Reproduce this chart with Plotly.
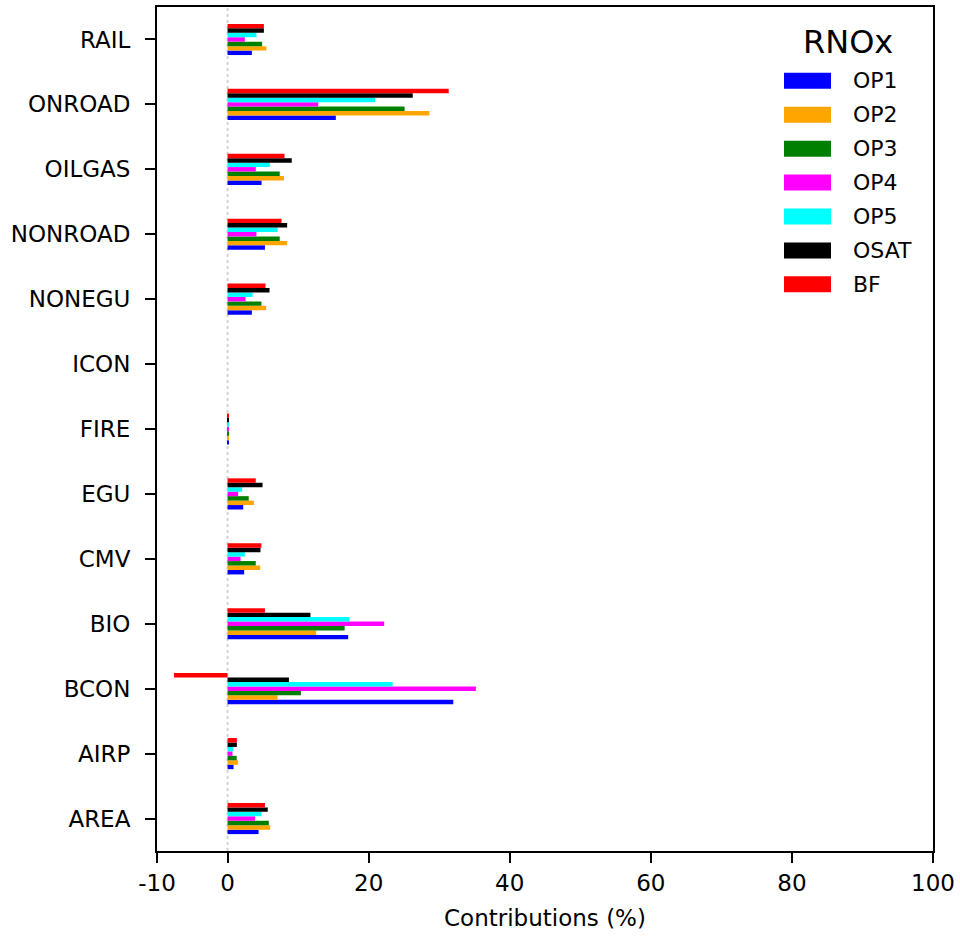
import plotly.graph_objects as go

categories = ["AREA", "AIRP", "BCON", "BIO", "CMV", "EGU", "FIRE", "ICON",
              "NONEGU", "NONROAD", "OILGAS", "ONROAD", "RAIL"]

series_names = ["OP1", "OP2", "OP3", "OP4", "OP5", "OSAT", "BF"]
series_colors = ["#0000ff", "#ffa500", "#008000", "#ff00ff", "#00ffff", "#000000", "#ff0000"]

op1 = [4.4, 0.85, 32.0, 17.1, 2.36, 2.22, 0.1, 0, 3.45, 5.3, 4.82, 15.35, 3.45]
op2 = [6.04, 1.5, 7.08, 12.56, 4.63, 3.73, 0.1, 0, 5.48, 8.45, 7.98, 28.6, 5.5]
op3 = [5.85, 1.3, 10.4, 16.6, 4.0, 3.0, 0.1, 0, 4.8, 7.4, 7.4, 25.1, 4.9]
op4 = [3.9, 0.7, 35.2, 22.2, 1.84, 1.5, 0.1, 0, 2.55, 4.1, 4.0, 12.85, 2.45]
op5 = [4.8, 0.8, 23.4, 17.28, 2.45, 2.08, 0.1, 0, 3.54, 7.08, 6.0, 20.9, 4.1]
osat = [5.7, 1.32, 8.7, 11.75, 4.67, 4.96, 0.1, 0, 5.95, 8.45, 9.1, 26.25, 5.15]
bf = [5.3, 1.32, -7.6, 5.3, 4.8, 4.0, 0.1, 0, 5.38, 7.65, 8.07, 31.35, 5.15]

series_values = [op1, op2, op3, op4, op5, osat, bf]

x_tickvals = [-10, 0, 20, 40, 60, 80, 100]
legend_title = "RNOx"
x_title = "Contributions (%)"

FONT = "DejaVu Sans"

fig = go.Figure()
for name, color, vals in zip(series_names, series_colors, series_values):
    fig.add_trace(go.Bar(
        y=categories, x=vals, name=name, orientation="h",
        marker=dict(color=color, line=dict(width=0)),
        showlegend=False,
    ))

# zero reference line (dotted)
fig.add_shape(type="line", xref="x", yref="paper", x0=0, x1=0, y0=0, y1=1,
              line=dict(color="#d3d3d3", width=2, dash="dot"), layer="below")

# manual legend matching the reference's wide patches
H = 846.0
W = 776.0
def py(pix):
    return (851 - pix) / H
def px(pix):
    return (pix - 157) / W

fig.add_annotation(xref="paper", yref="paper", x=px(848), y=py(40), text=legend_title,
                   showarrow=False, xanchor="center", yanchor="middle",
                   font=dict(family=FONT, size=32, color="black"))
for i, (name, color) in enumerate(zip(series_names, series_colors)):
    yc = 79 + 34 * i
    fig.add_shape(type="rect", xref="paper", yref="paper",
                  x0=px(784), x1=px(831), y0=py(yc + 8), y1=py(yc - 8),
                  fillcolor=color, line=dict(width=0))
    fig.add_annotation(xref="paper", yref="paper", x=px(851), y=py(yc), text=name,
                       showarrow=False, xanchor="left", yanchor="middle",
                       font=dict(family=FONT, size=22, color="black"))

fig.update_layout(
    width=960, height=936,
    margin=dict(l=157, r=27, t=5, b=85),
    paper_bgcolor="white", plot_bgcolor="white",
    barmode="group", bargap=0.52, bargroupgap=0,
    font=dict(family=FONT, size=23, color="black"),
)
fig.update_xaxes(
    range=[-10, 100], tickvals=x_tickvals, ticktext=[str(v) for v in x_tickvals],
    showgrid=False, zeroline=False,
    showline=True, linecolor="black", linewidth=2, mirror=True,
    ticks="outside", ticklen=10, tickwidth=2, tickcolor="black",
    title=dict(text=x_title, font=dict(family=FONT, size=23), standoff=15),
    tickfont=dict(family=FONT, size=23),
)
fig.update_yaxes(
    categoryorder="array", categoryarray=categories,
    range=[-0.5, 12.5],
    showgrid=False, zeroline=False,
    showline=True, linecolor="black", linewidth=2, mirror=True,
    ticks="outside", ticklen=10, tickwidth=2, tickcolor="black",
    ticklabelstandoff=10,
    tickfont=dict(family=FONT, size=23),
)

fig.write_html("out.html")
